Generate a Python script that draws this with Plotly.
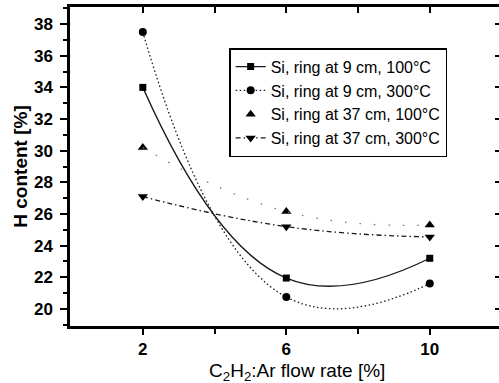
import plotly.graph_objects as go

flow_rate = [2, 6, 10]
s1_name = "Si, ring at 9 cm, 100°C"
s1 = [34.0, 21.95, 23.2]
s2_name = "Si, ring at 9 cm, 300°C"
s2 = [37.5, 20.75, 21.6]
s3_name = "Si, ring at 37 cm, 100°C"
s3 = [30.2, 26.15, 25.3]
s4_name = "Si, ring at 37 cm, 300°C"
s4 = [27.1, 25.2, 24.55]

x_ticks = [2, 6, 10]
y_ticks = [20, 22, 24, 26, 28, 30, 32, 34, 36, 38]

FONT = "Liberation Sans, Arial, sans-serif"
LC = "#1a1a1a"

fig = go.Figure()
fig.add_trace(go.Scatter(
    x=flow_rate, y=s1, name=s1_name, mode="lines+markers",
    line=dict(color=LC, width=1.3, shape="spline", smoothing=1.3),
    marker=dict(symbol="square", size=7, color="black")))
fig.add_trace(go.Scatter(
    x=flow_rate, y=s2, name=s2_name, mode="lines+markers",
    line=dict(color=LC, width=1.3, shape="spline", smoothing=1.3, dash="1.5px,2.5px"),
    marker=dict(symbol="circle", size=8, color="black")))
fig.add_trace(go.Scatter(
    x=flow_rate, y=s3, name=s3_name, mode="markers",
    marker=dict(symbol="triangle-up", size=9, color="black")))
fig.add_trace(go.Scatter(
    x=flow_rate, y=s3, showlegend=False, mode="lines", hoverinfo="skip",
    line=dict(color="#777", width=1.3, shape="spline", smoothing=1.3, dash="1.5px,13px")))
fig.add_trace(go.Scatter(
    x=flow_rate, y=s4, name=s4_name, mode="lines+markers",
    line=dict(color=LC, width=1.3, shape="spline", smoothing=1.3, dash="5px,3px,1.5px,3px"),
    marker=dict(symbol="triangle-down", size=9, color="black")))
# invisible trace so the mirrored frame axes (top / right) are drawn
fig.add_trace(go.Scatter(
    x=flow_rate, y=s1, xaxis="x2", yaxis="y2", mode="markers", showlegend=False,
    hoverinfo="skip", marker=dict(opacity=0)))

xr = [-0.03, 11.93]
yr = [18.92, 39.08]

fig.update_layout(
    width=499, height=383,
    margin=dict(l=70, r=0, t=7, b=57),
    paper_bgcolor="white", plot_bgcolor="white",
    showlegend=True,
    legend=dict(
        x=0.371, y=0.871, xanchor="left", yanchor="top",
        bordercolor="black", borderwidth=1.5, bgcolor="white",
        font=dict(family=FONT, size=16, color="black"),
        tracegroupgap=0, itemwidth=30,
    ),
    xaxis=dict(
        range=xr, tickvals=x_ticks, ticktext=["<b>%d</b>" % v for v in x_ticks],
        ticks="outside", ticklen=6, tickwidth=2, tickcolor="black",
        minor=dict(tickvals=[4, 8], ticks="outside", ticklen=5, tickwidth=2, tickcolor="black"),
        showline=True, linewidth=2.5, linecolor="black",
        showgrid=False, zeroline=False, ticklabelstandoff=0,
        tickfont=dict(family=FONT, size=17, color="black"),
    ),
    xaxis2=dict(
        range=xr, overlaying="x", side="top", anchor="y",
        tickvals=[2, 4, 6, 8, 10], ticks="inside", ticklen=6, tickwidth=2, tickcolor="black",
        showticklabels=False, showline=True, linewidth=2.5, linecolor="black",
        showgrid=False, zeroline=False,
    ),
    yaxis=dict(
        range=yr, tickvals=y_ticks, ticktext=["<b>%d</b>" % v for v in y_ticks],
        ticks="outside", ticklen=7, tickwidth=2, tickcolor="black",
        minor=dict(dtick=1, tick0=19, ticks="outside", ticklen=4, tickwidth=1.5, tickcolor="black"),
        showline=True, linewidth=2.5, linecolor="black",
        showgrid=False, zeroline=False, ticklabelstandoff=4,
        tickfont=dict(family=FONT, size=17, color="black"),
        title=dict(text="<b>H content [%]</b>", standoff=2,
                   font=dict(family=FONT, size=19, color="black")),
    ),
    yaxis2=dict(
        range=yr, overlaying="y", side="right", anchor="x",
        tickvals=y_ticks, ticks="inside", ticklen=4, tickwidth=2, tickcolor="black",
        showticklabels=False, showline=False, showgrid=False, zeroline=False,
    ),
    annotations=[dict(
        text="C<sub>2</sub>H<sub>2</sub>:Ar flow rate [%]",
        xref="paper", yref="paper", x=0.53, y=-0.1, xanchor="center", yanchor="top",
        showarrow=False, font=dict(family=FONT, size=19, color="black"),
    )],
)

fig.write_html("out.html")
